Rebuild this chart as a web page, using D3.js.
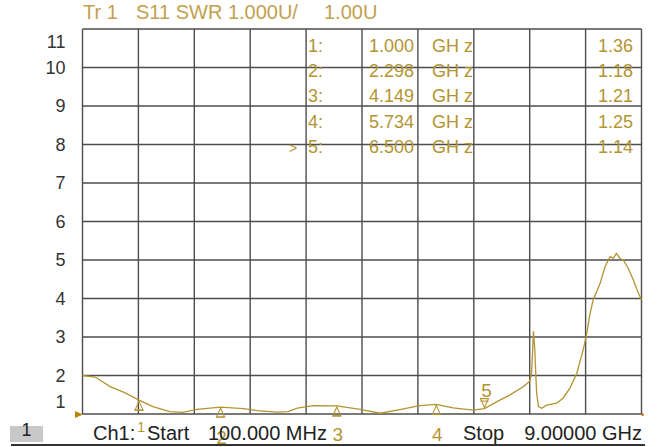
<!DOCTYPE html>
<html>
<head>
<meta charset="utf-8">
<script src="https://cdn.jsdelivr.net/npm/d3@7"></script>
<style>
  body { margin: 0; background: #fff; }
  svg { display: block; font-family: "Liberation Sans", Arial, sans-serif; }
</style>
</head>
<body>
<script>
// trace: frequency in GHz and SWR
var freqGHz = [0.10, 0.30, 0.54, 0.78, 1.00, 1.22, 1.49, 1.70, 1.92, 2.30, 2.66, 2.88, 3.20, 3.37, 3.52, 3.77,
               4.15, 4.52, 4.84, 5.11, 5.47, 5.73, 6.00, 6.32, 6.50, 6.70, 6.90, 7.11, 7.22, 7.25, 7.28, 7.30,
               7.33, 7.36, 7.41, 7.49, 7.65, 7.75, 7.86, 7.97, 8.07, 8.13, 8.18, 8.23, 8.34, 8.42, 8.50, 8.55,
               8.60, 8.66, 8.71, 8.79, 8.87, 8.93, 9.00];
var swr = [2.00, 1.96, 1.71, 1.55, 1.36, 1.19, 1.06, 1.04, 1.12, 1.18, 1.14, 1.09, 1.05, 1.06, 1.15, 1.22,
           1.21, 1.12, 1.02, 1.10, 1.22, 1.25, 1.16, 1.10, 1.14, 1.32, 1.49, 1.70, 1.85, 2.05, 3.15, 2.70,
           1.55, 1.19, 1.15, 1.23, 1.28, 1.41, 1.67, 2.06, 2.66, 3.10, 3.60, 3.96, 4.39, 4.83, 5.09, 5.04,
           5.17, 5.04, 5.00, 4.78, 4.48, 4.22, 3.96];

// markers
var markerIds = [1, 2, 3, 4, 5];
var markerFreq = [1.000, 2.298, 4.149, 5.734, 6.500];
var markerSwr = [1.36, 1.18, 1.21, 1.25, 1.14];

var yTicks = [1, 2, 3, 4, 5, 6, 7, 8, 9, 10, 11];
var startLabel = "100.000 MHz";
var stopLabel = "9.00000 GHz";

function draw_swr() {
    var width = 657, height = 447;
    var left = 82.5, right = 641.5, top = 29, bottom = 414;
    var gold = "#b39431";

    var svg = d3.select("body").append("svg")
                .attr("width", width)
                .attr("height", height);

    svg.append("rect").attr("width", width).attr("height", height).attr("fill", "#fff");

    var x = d3.scaleLinear().domain([0.1, 9]).range([left, right]);
    var y = d3.scaleLinear().domain([1, 11]).range([bottom, top]);

    // 10 x 10 grid
    var xDivs = d3.range(11).map(function(i) { return 0.1 + i * 0.89; });
    svg.append("g").selectAll("line")
        .data(xDivs).enter().append("line")
        .attr("x1", function(d) { return x(d); })
        .attr("x2", function(d) { return x(d); })
        .attr("y1", top).attr("y2", bottom)
        .attr("stroke", "#4d4d4d").attr("stroke-width", 1.4);
    svg.append("g").selectAll("line")
        .data(yTicks).enter().append("line")
        .attr("x1", left).attr("x2", right)
        .attr("y1", function(d) { return y(d); })
        .attr("y2", function(d) { return y(d); })
        .attr("stroke", "#4d4d4d").attr("stroke-width", 1.4);

    // y labels
    var yAxis = svg.append("g")
        .attr("transform", "translate(" + left + ",0)")
        .call(d3.axisLeft(y).tickValues(yTicks).tickSize(0).tickPadding(17).tickFormat(d3.format("d")));
    yAxis.select(".domain").remove();
    yAxis.selectAll("text")
        .attr("font-size", 18)
        .attr("font-family", "Liberation Sans, Arial, sans-serif")
        .attr("fill", "#333");
    yAxis.selectAll(".tick").filter(function(d) { return d === 11; })
        .select("text").attr("dy", "1.05em");
    yAxis.selectAll(".tick").filter(function(d) { return d === 1; })
        .select("text").attr("dy", "-0.35em");

    // header
    var hdr = svg.append("g").attr("fill", "#c2a14f").attr("font-size", 20);
    hdr.append("text").attr("x", 83).attr("y", 19).text("Tr 1");
    hdr.append("text").attr("x", 136).attr("y", 19).text("S11 SWR 1.000U/");
    hdr.append("text").attr("x", 324).attr("y", 19).text("1.00U");

    // marker table
    var tbl = svg.append("g").attr("fill", gold).attr("font-size", 18);
    markerIds.forEach(function(id, i) {
        var by = 51.5 + i * 25.4;
        tbl.append("text").attr("x", 308).attr("y", by).text(id + ":");
        tbl.append("text").attr("x", 369).attr("y", by).text(markerFreq[i].toFixed(3));
        tbl.append("text").attr("x", 432).attr("y", by).text("GH z");
        tbl.append("text").attr("x", 633).attr("y", by).attr("text-anchor", "end").text(markerSwr[i].toFixed(2));
        if (i === markerIds.length - 1) {
            tbl.append("text").attr("x", 289).attr("y", by).attr("font-size", 14).text(">");
        }
    });

    // trace
    var pts = freqGHz.map(function(f, i) { return [f, swr[i]]; });
    var line = d3.line()
        .x(function(d) { return x(d[0]); })
        .y(function(d) { return y(d[1]); });
    svg.append("path")
        .datum(pts)
        .attr("d", line)
        .attr("fill", "none")
        .attr("stroke", gold)
        .attr("stroke-width", 1.3);

    // marker triangles + numbers
    var mk = svg.append("g").attr("fill", "none").attr("stroke", gold).attr("stroke-width", 1.1);
    var lbl = svg.append("g").attr("fill", gold);
    markerIds.forEach(function(id, i) {
        var mx = x(markerFreq[i]), my = y(markerSwr[i]);
        if (id === 5) {
            mk.append("path").attr("d", "M" + (mx - 4) + "," + (my - 10) + "L" + (mx + 4) + "," + (my - 10) +
                                        "L" + mx + "," + (my - 1) + "Z");
            mk.append("line").attr("x1", mx - 4).attr("x2", mx + 4)
                .attr("y1", my - 7.5).attr("y2", my - 7.5);
            lbl.append("text").attr("x", mx + 2).attr("y", my - 12).attr("text-anchor", "middle")
                .attr("font-size", 19).text(id);
        } else {
            mk.append("path").attr("d", "M" + mx + "," + (my + 1) + "L" + (mx + 4) + "," + (my + 10) +
                                        "L" + (mx - 4) + "," + (my + 10) + "Z");
            mk.append("line").attr("x1", mx - 4.5).attr("x2", mx + 4.5)
                .attr("y1", my + 10).attr("y2", my + 10);
            if (id === 1) {
                lbl.append("text").attr("x", mx + 2).attr("y", 432).attr("text-anchor", "middle")
                    .attr("font-size", 14).text(id);
            } else {
                lbl.append("text").attr("x", mx + 1).attr("y", id === 2 ? 444 : 441).attr("text-anchor", "middle")
                    .attr("font-size", 19).text(id);
            }
        }
    });

    // reference arrow and end dot
    svg.append("path").attr("d", "M75,411L83,414.5L75,418Z").attr("fill", "#b8860b");
    svg.append("circle").attr("cx", right + 1).attr("cy", bottom + 0.5).attr("r", 1.5).attr("fill", "#c87f2a");

    // bottom status line
    svg.append("rect").attr("x", 10).attr("y", 426).attr("width", 33).attr("height", 16).attr("fill", "#c8c8c8");
    svg.append("text").attr("x", 26.5).attr("y", 436).attr("text-anchor", "middle")
        .attr("font-size", 18).attr("fill", "#222").text("1");
    var st = svg.append("g").attr("fill", "#222").attr("font-size", 20);
    st.append("text").attr("x", 93).attr("y", 440).text("Ch1:");
    st.append("text").attr("x", 147).attr("y", 440).text("Start");
    st.append("text").attr("x", 208).attr("y", 440).text(startLabel);
    st.append("text").attr("x", 463).attr("y", 440).text("Stop");
    st.append("text").attr("x", 642).attr("y", 440).attr("text-anchor", "end").text(stopLabel);
    svg.append("line").attr("x1", 11).attr("x2", 645).attr("y1", 445).attr("y2", 445)
        .attr("stroke", "#333").attr("stroke-width", 2);
}

document.addEventListener("DOMContentLoaded", draw_swr());
</script>
</body>
</html>
